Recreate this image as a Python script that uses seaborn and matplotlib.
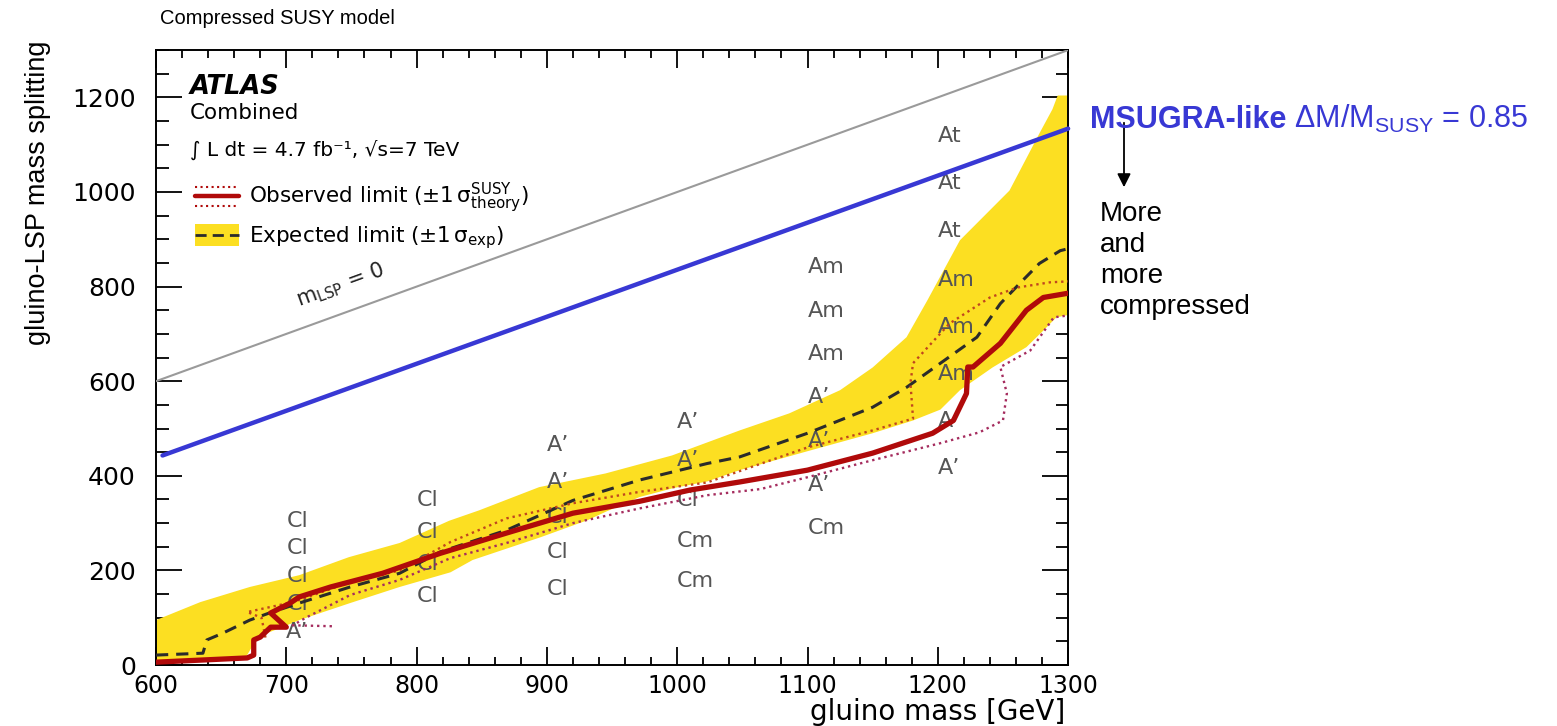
import numpy as np
import matplotlib
matplotlib.use("Agg")
import matplotlib.pyplot as plt
from matplotlib.ticker import MultipleLocator
from matplotlib.legend_handler import HandlerBase
from matplotlib.lines import Line2D
from matplotlib.patches import Rectangle, FancyArrowPatch
import seaborn as sns

# ---------------------------------------------------------------- data
# expected limit +/-1 sigma band (upper and lower edge)
band_up_x = [600, 634, 672, 710, 748, 787, 825, 848, 894, 945, 996, 1048, 1086,
             1125, 1150, 1176, 1192, 1217, 1255, 1278, 1288, 1292, 1300]
band_up_y = [95, 133, 165, 190, 228, 258, 305, 327, 376, 405, 443, 496, 532,
             581, 629, 693, 771, 898, 1003, 1124, 1175, 1204, 1204]
band_lo_x = [600, 668, 674, 680, 697, 710, 749, 787, 826, 843, 895, 931, 946,
             971, 997, 1023, 1048, 1100, 1150, 1181, 1202, 1217, 1242, 1268,
             1281, 1291, 1300]
band_lo_y = [8, 12, 40, 62, 80, 95, 131, 165, 196, 222, 270, 306, 325,
             355, 374, 388, 412, 452, 490, 517, 540, 581, 629, 672,
             707, 735, 740]

# expected limit
exp_x = [600, 636, 639, 651, 672, 687, 710, 749, 787, 818, 869, 920, 971, 1023,
         1048, 1100, 1150, 1176, 1202, 1230, 1248, 1263, 1278, 1294, 1300]
exp_y = [21, 25, 53, 67, 95, 110, 131, 165, 194, 239, 285, 348, 391, 426,
         440, 490, 545, 587, 638, 693, 764, 807, 849, 876, 880]

# observed limit
obs_x = [600, 670, 675, 675, 680, 688, 700, 688, 703, 710, 734, 774, 818, 869,
         920, 971, 1010, 1048, 1100, 1150, 1196, 1212, 1222, 1223, 1227, 1248,
         1268, 1281, 1300]
obs_y = [6, 15, 21, 53, 59, 80, 80, 110, 131, 144, 165, 194, 236, 279,
         321, 346, 370, 387, 412, 448, 490, 517, 574, 630, 630, 680,
         750, 777, 786]

# observed limit, +1 sigma theory
obs_hi_x = [684, 681, 670, 705, 749, 787, 826, 869, 920, 971, 1023, 1048, 1100,
            1150, 1181, 1179, 1181, 1209, 1240, 1261, 1286, 1300]
obs_hi_y = [58, 100, 112, 133, 175, 200, 260, 310, 342, 366, 386, 410, 460,
            496, 521, 596, 638, 722, 777, 798, 809, 811]

# observed limit, -1 sigma theory
obs_lo_x = [735, 705, 715, 749, 787, 826, 869, 920, 971, 1023, 1064, 1100, 1150,
            1202, 1232, 1250, 1253, 1248, 1271, 1289, 1300]
obs_lo_y = [82, 84, 100, 148, 180, 226, 258, 300, 331, 359, 372, 397, 433,
            469, 492, 517, 574, 630, 665, 735, 739]

# m_LSP = 0 kinematic boundary and the MSUGRA-like reference line
mlsp0_x = [600, 1300]
mlsp0_y = [600, 1300]
msugra_x = [605, 1300]
msugra_y = [443, 1134]

# signal-region labels on the grid of model points
sr_x = [700, 700, 700, 700, 700,
        800, 800, 800, 800,
        900, 900, 900, 900, 900,
        1000, 1000, 1000, 1000, 1000,
        1100, 1100, 1100, 1100, 1100, 1100, 1100,
        1200, 1200, 1200, 1200, 1200, 1200, 1200, 1200]
sr_y = [305, 247, 188, 129, 70,
        348, 281, 213, 146,
        465, 386, 313, 239, 161,
        513, 433, 348, 262, 177,
        841, 748, 657, 566, 473, 380, 289,
        1119, 1018, 917, 813, 714, 615, 515, 416]
sr_txt = ["Cl", "Cl", "Cl", "Cl", "A’",
          "Cl", "Cl", "Cl", "Cl",
          "A’", "A’", "Cl", "Cl", "Cl",
          "A’", "A’", "Cl", "Cm", "Cm",
          "Am", "Am", "Am", "A’", "A’", "A’", "Cm",
          "At", "At", "At", "Am", "Am", "Am", "A’", "A’"]

x_ticks = [600, 700, 800, 900, 1000, 1100, 1200, 1300]
y_ticks = [0, 200, 400, 600, 800, 1000, 1200]

# ---------------------------------------------------------------- style
YELLOW = "#FCDF22"
RED = "#B00A0A"
RED_HI = "#C0461E"
RED_LO = "#A52C5E"
BLUE = "#3838D4"
GREY_TXT = "#555555"
ARIAL = ["Liberation Sans", "DejaVu Sans"]

sns.set_theme(style="ticks")
plt.rcParams.update({
    "font.family": ["DejaVu Sans"],
    "text.color": "black",
    "axes.labelcolor": "black",
    "xtick.color": "black",
    "ytick.color": "black",
    "axes.edgecolor": "black",
    "axes.linewidth": 1.4,
    "mathtext.default": "regular",
})

fig = plt.figure(figsize=(15.57, 7.26), dpi=100)
ax = fig.add_axes([0.1002, 0.084, 0.5858, 0.847])

# expected band
ax.fill(np.concatenate([band_up_x, band_lo_x[::-1]]),
        np.concatenate([band_up_y, band_lo_y[::-1]]),
        color=YELLOW, lw=0, zorder=1)

# signal region labels
for x, y, t in zip(sr_x, sr_y, sr_txt):
    ax.text(x, y, t, ha="left", va="center", fontsize=16, color=GREY_TXT, zorder=2)

# limit curves
sns.lineplot(x=exp_x, y=exp_y, sort=False, estimator=None, ax=ax, color="#2b2b2b",
             lw=2.2, zorder=3).lines[-1].set_dashes((4, 2.6))
sns.lineplot(x=obs_hi_x, y=obs_hi_y, sort=False, estimator=None, ax=ax,
             color=RED_HI, lw=1.7, zorder=4).lines[-1].set_linestyle(":")
sns.lineplot(x=obs_lo_x, y=obs_lo_y, sort=False, estimator=None, ax=ax,
             color=RED_LO, lw=1.7, zorder=4).lines[-1].set_linestyle(":")
sns.lineplot(x=obs_x, y=obs_y, sort=False, estimator=None, ax=ax,
             color=RED, lw=3.8, zorder=5)

# m_LSP = 0 line and MSUGRA-like line
sns.lineplot(x=mlsp0_x, y=mlsp0_y, sort=False, estimator=None, ax=ax,
             color="#9a9a9a", lw=1.5, zorder=3)
sns.lineplot(x=msugra_x, y=msugra_y, sort=False, estimator=None, ax=ax,
             color=BLUE, lw=3.2, zorder=6, clip_on=False)

ax.text(741, 802, "m$_{LSP}$ = 0", rotation=45, transform_rotates_text=True,
        rotation_mode="anchor", ha="center", va="center", fontsize=15,
        color="#222222", zorder=3)

# axes
ax.set_xlim(600, 1300)
ax.set_ylim(0, 1300)
ax.set_xticks(x_ticks)
ax.set_yticks(y_ticks)
ax.xaxis.set_minor_locator(MultipleLocator(20))
ax.yaxis.set_minor_locator(MultipleLocator(50))
ax.tick_params(axis="x", which="major", direction="in", length=13, width=1.3,
               top=True, bottom=True, labelsize=17, pad=6.5)
ax.tick_params(axis="x", which="minor", direction="in", length=6, width=1.3,
               top=True, bottom=True)
ax.tick_params(axis="y", which="major", direction="in", length=19, width=1.3,
               left=True, right=True, labelsize=18, pad=14.5)
ax.tick_params(axis="y", which="minor", direction="in", length=9, width=1.3,
               left=True, right=True)
for s in ax.spines.values():
    s.set_visible(True)

ax.set_xlabel("gluino mass [GeV]", fontsize=20, loc="right")
ax.xaxis.label.set_va("bottom")
ax.xaxis.set_label_coords(0.997, -0.099)

ax.set_ylabel("gluino-LSP mass splitting", fontsize=19.5, family=ARIAL)
ylab = ax.yaxis.label
ylab.set_rotation_mode("default")
ylab.set_ha("center")
ylab.set_va("top")
ax.yaxis.set_label_coords(-0.129, 1.016)

ax.set_title("Compressed SUSY model", loc="left", fontsize=14.5, pad=19, x=0.004,
             family=ARIAL)

# ATLAS label block
ax.text(0.037, 0.94, "ATLAS", transform=ax.transAxes, fontsize=18.5,
        weight="bold", style="italic", va="center", ha="left")
ax.text(0.037, 0.898, "Combined", transform=ax.transAxes, fontsize=15.5,
        va="center", ha="left")
ax.text(0.037, 0.837, "∫ L dt = 4.7 fb⁻¹, √s=7 TeV", transform=ax.transAxes,
        fontsize=14.5, va="center", ha="left")


# legend entries
class ObservedHandler(HandlerBase):
    def create_artists(self, legend, orig_handle, xdescent, ydescent,
                       width, height, fontsize, trans):
        yc = height / 2 - ydescent
        x0, x1 = -xdescent, width - xdescent
        off = 0.43 * fontsize
        hi = Line2D([x0, x1], [yc + off] * 2, color=RED, lw=1.5, ls=":", transform=trans)
        mid = Line2D([x0, x1], [yc] * 2, color=RED, lw=3.2, transform=trans)
        lo = Line2D([x0, x1], [yc - off] * 2, color=RED, lw=1.5, ls=":", transform=trans)
        return [hi, mid, lo]


class ExpectedHandler(HandlerBase):
    def create_artists(self, legend, orig_handle, xdescent, ydescent,
                       width, height, fontsize, trans):
        yc = height / 2 - ydescent
        x0 = -xdescent
        h = 1.0 * fontsize
        box = Rectangle((x0, yc - h / 2), width, h, facecolor=YELLOW, lw=0, transform=trans)
        dash = Line2D([x0, x0 + width], [yc] * 2, color="#2b2b2b", lw=2.0,
                      dashes=(4, 2.2), transform=trans)
        return [box, dash]


h_obs = Line2D([], [], color=RED)
h_exp = Rectangle((0, 0), 1, 1, color=YELLOW)
ax.legend([h_obs, h_exp],
          [r"Observed limit ($\pm1\,\sigma^{SUSY}_{theory}$)",
           r"Expected limit ($\pm1\,\sigma_{exp}$)"],
          handler_map={Line2D: ObservedHandler(), Rectangle: ExpectedHandler()},
          loc="upper left", bbox_to_anchor=(0.043, 0.787), frameon=False,
          fontsize=15.5, handlelength=2.05, handleheight=1.2, handletextpad=0.45,
          labelspacing=0.4, borderpad=0, borderaxespad=0)

# annotations to the right of the plot
fig.canvas.draw()
renderer = fig.canvas.get_renderer()
t1 = fig.text(1090 / 1557, 1 - 128 / 726, "MSUGRA-like", color=BLUE, fontsize=22,
              weight="bold", family=ARIAL, va="baseline")
bb = t1.get_window_extent(renderer)
fig.text(bb.x1 / fig.bbox.width, 1 - 128 / 726, r" ΔM/M$_{SUSY}$ = 0.85", color=BLUE,
         fontsize=22, family=ARIAL, va="baseline")

fig.add_artist(FancyArrowPatch(
    (1124 / 1557, 1 - 120 / 726), (1124 / 1557, 1 - 190 / 726),
    transform=fig.transFigure, arrowstyle="-|>", mutation_scale=20,
    color="black", lw=1.3))

fig.text(1100 / 1557, 1 - 201 / 726, "More\nand\nmore\ncompressed", fontsize=20,
         family=ARIAL, va="top", ha="left", linespacing=1.25)

fig.savefig("out.png", dpi=100)
